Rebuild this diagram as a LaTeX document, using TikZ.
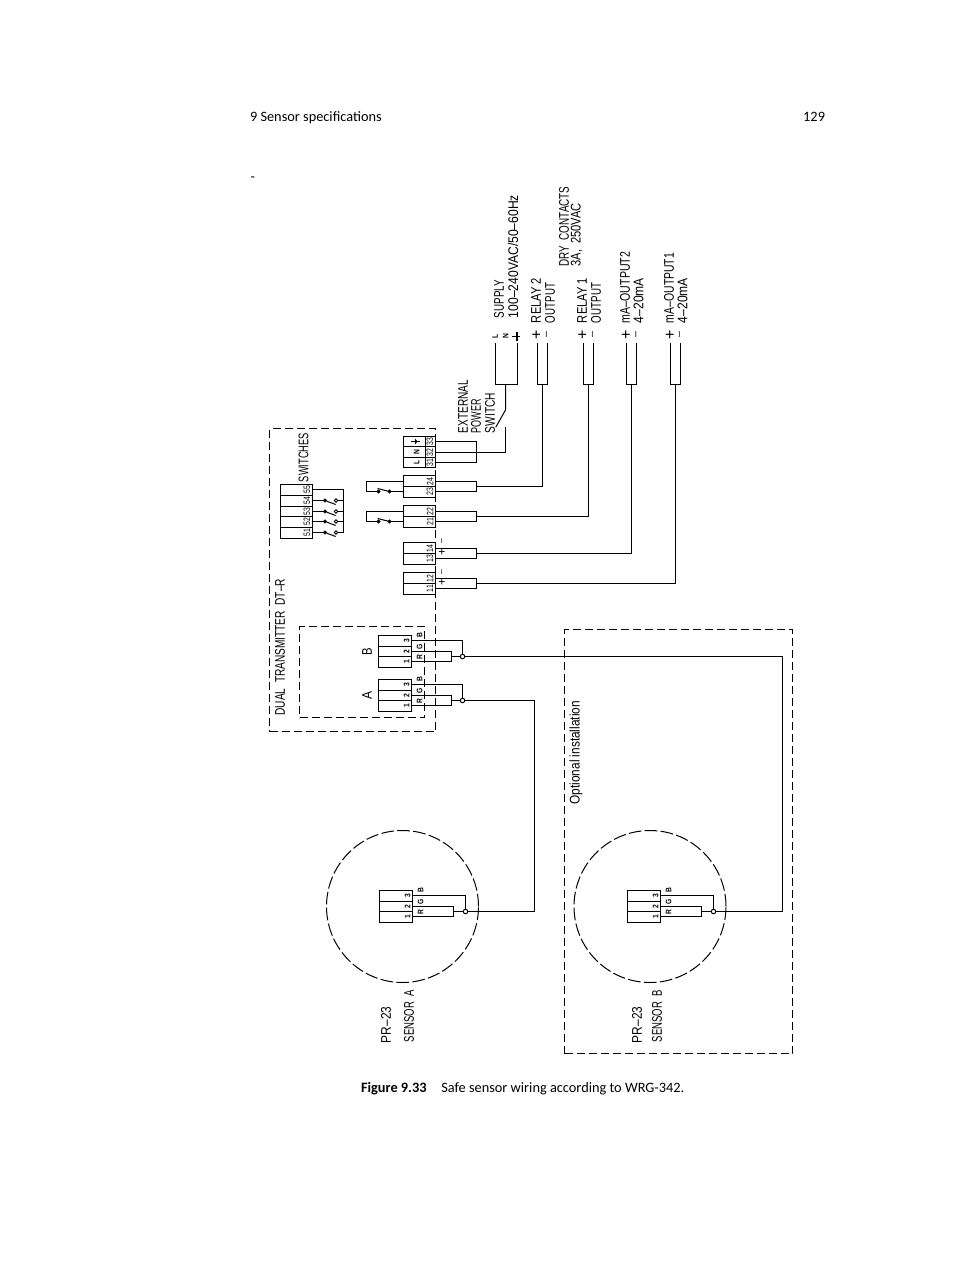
\documentclass[tikz,border=0pt]{standalone}
\usepackage{fontspec}
\setmainfont{Carlito}
\newfontfamily\cadfont{Liberation Sans}
\usetikzlibrary{calc}
\newcommand{\cadsmall}[1]{\scalebox{.84}[1]{\fontsize{6}{7}\cadfont\bfseries #1}}
\newcommand{\cadnum}[1]{\scalebox{.74}[1]{\fontsize{7}{8}\cadfont #1}}
\tikzset{
  wire/.style={draw=black,line width=.75pt,line join=miter},
  boxn/.style={draw=black,line width=.75pt,inner sep=0pt,outer sep=0pt},
  dashbox/.style={draw=black,line width=.75pt,dash pattern=on 6pt off 3pt,inner sep=0pt,outer sep=0pt},
  dashring/.style={draw=black,line width=.75pt,dash pattern=on 9.5pt off 2.5pt,circle,inner sep=0pt,outer sep=0pt},
  contact/.style={draw=black,fill=black,circle,minimum size=2.6pt,inner sep=0pt,outer sep=0pt},
  junction/.style={draw=black,line width=.7pt,circle,minimum size=3.4pt,inner sep=0pt,outer sep=0pt},
  lab/.style={rotate=90,anchor=west,inner sep=0pt,outer sep=0pt},
  tiny/.style={rotate=90,anchor=center,inner sep=0pt,outer sep=0pt},
  page/.style={anchor=base west,inner sep=0pt,outer sep=0pt,font=\fontsize{10.75}{13}\selectfont},
}
% rectangle given by left, top, width, height (pixels)
\newcommand{\pbox}[6][boxn]{\node[#1,minimum width={#5*0.75pt},minimum height={#6*0.75pt}] (#2) at ({#3+#5/2},{#4+#6/2}) {};}
% label reading upward, stretched to its length: name, x, lower y, upper y, text
\newcommand{\biglab}[5]{%
  \pgfmathsetlengthmacro{\lablen}{(#3-#4)*0.75pt}%
  \node[lab] (#1) at (#2,#3) {\resizebox{\lablen}{\height}{\fontsize{10.5}{12}\cadfont #5}};}
\newcommand{\minilab}[4]{\node[tiny] (#1) at (#2,#3) {\cadsmall{#4}};}
\newcommand{\numlab}[4]{\node[tiny] (#1) at (#2,#3) {\cadnum{#4}};}
% three-row connector with R G B tails: name, left x, top y, tie x, junction x
\newcommand{\sensorblock}[5]{
  \pbox{#1}{#2}{#3}{33}{32}
  \draw[wire] ($(#1.north west)+(0,11)$) -- ($(#1.north east)+(0,11)$);
  \draw[wire] ($(#1.north west)+(0,21)$) -- ($(#1.north east)+(0,21)$);
  \coordinate (#1-3) at ($(#1.north east)+(0,5)$);
  \coordinate (#1-2) at ($(#1.north east)+(0,16)$);
  \coordinate (#1-1) at ($(#1.north east)+(0,26)$);
  \coordinate (#1-t) at (#4,{#3+21});
  \node[junction] (#1-j) at (#5,{#3+21}) {};
  \minilab{#1-n3}{#2+28}{#3+5}{3}
  \minilab{#1-n2}{#2+28}{#3+16}{2}
  \minilab{#1-n1}{#2+28}{#3+26}{1}
  \minilab{#1-cb}{#2+41}{#3+0}{B}
  \minilab{#1-cg}{#2+41}{#3+11}{G}
  \minilab{#1-cr}{#2+41}{#3+21.5}{R}
  \draw[wire] (#1-3) -| (#1-j.north);
  \draw[wire] (#1-1) -| (#1-t) |- (#1-2);
  \draw[wire] (#1-t) -- (#1-j.west);
}
% two-row terminal: name, top y, upper number, lower number
\newcommand{\twoterm}[4]{
  \pbox{#1}{403.5}{#2}{32}{22}
  \draw[wire] (#1.west) -- (#1.east);
  \coordinate (#1-a) at ($(#1.north east)+(0,6)$);
  \coordinate (#1-b) at ($(#1.north east)+(0,16)$);
  \coordinate (#1-c) at ($(#1.north west)+(0,6)$);
  \coordinate (#1-d) at ($(#1.north west)+(0,16)$);
  \coordinate (#1-r) at (476.5,{#2+11});
  \numlab{#1-hi}{430}{#2+6}{#3}
  \numlab{#1-lo}{430}{#2+16}{#4}
  \draw[wire] (#1-a) -| (#1-r) |- (#1-b);
}
\begin{document}
\begin{tikzpicture}[x=.75pt,y=-.75pt]
\useasboundingbox (0,0) rectangle (954,1270);
\fill[white] (0,0) rectangle (954,1270);

% page texts
\node[page] (head) at (250,121) {9 Sensor specifications};
\node[page,anchor=base east] (pageno) at (825,121) {129};
\node[page] (stray) at (250.5,181) {-};
\node[page] (caption) at (361,1092) {\textbf{Figure 9.33}\hspace{11pt}Safe sensor wiring according to WRG-342.};

% dashed enclosures
\pbox[dashbox]{dtr}{269.5}{428.5}{166}{303}
\pbox[dashbox]{inner}{299.5}{626.5}{125}{91}
\pbox[dashbox]{opt}{564.5}{629.5}{228}{424}
\node[dashring,minimum size={152*0.75pt}] (ringA) at (402.5,906.5) {};
\node[dashring,minimum size={152*0.75pt}] (ringB) at (650,906.5) {};

% sensor / transmitter connectors
\sensorblock{sa}{379.5}{890.5}{453.5}{465.5}
\sensorblock{sb}{627.5}{890.5}{701.5}{713.5}
\sensorblock{ta}{378.5}{679.5}{451.5}{462.5}
\sensorblock{tb}{378.5}{635.5}{451.5}{462.5}

% long runs
\coordinate (bendA) at (534.5,911.5);
\coordinate (bendB) at (782.5,911.5);
\draw[wire] (ta-j.east) -| (bendA) -- (sa-j.east);
\draw[wire] (tb-j.east) -| (bendB) -- (sb-j.east);

% supply terminal
\pbox{ps}{403.5}{436.5}{32}{31}
\draw[wire] (425.5,436.5) -- (425.5,467.5);
\draw[wire] (403.5,446.5) -- (435.5,446.5);
\draw[wire] (403.5,457.5) -- (435.5,457.5);
\coordinate (ps-a) at (435.5,441.5);
\coordinate (ps-b) at (435.5,452.5);
\coordinate (ps-c) at (435.5,462.5);
\coordinate (ps-e) at (476.5,462.5);
\numlab{ps-33}{430}{441.5}{33}
\numlab{ps-32}{430}{452.5}{32}
\numlab{ps-31}{430}{462.5}{31}
\minilab{ps-n}{416.5}{452}{N}
\minilab{ps-l}{416.5}{462.5}{L}
\draw[wire] (411,441.5) -- (419.5,441.5);
\fill (415,438.5) -- (417.5,441.5) -- (415,444.5) -- cycle;
\draw[wire] (ps-a) -| (ps-e) -- (ps-c);

% two-row terminals
\twoterm{r2}{475.5}{24}{23}
\twoterm{r1}{505.5}{22}{21}
\twoterm{o2}{542.5}{14}{13}
\twoterm{o1}{572.5}{12}{11}

\node[tiny] (o2m) at (442.3,541) {\fontsize{6.5}{7}\cadfont\textendash};
\node[tiny] (o2p) at (442.3,551.7) {\fontsize{9}{10}\cadfont +};
\node[tiny] (o1m) at (442.3,572) {\fontsize{6.5}{7}\cadfont\textendash};
\node[tiny] (o1p) at (442.3,582.3) {\fontsize{9}{10}\cadfont +};

% relay loops
\node[contact] (r2L) at (378.5,491.5) {};
\node[contact] (r2R) at (389.5,491.5) {};
\node[contact] (r1L) at (378.5,521.5) {};
\node[contact] (r1R) at (389.5,521.5) {};
\coordinate (r2W) at (366.5,491.5);
\coordinate (r1W) at (366.5,521.5);
\coordinate (r2B) at (377.6,488.5);
\coordinate (r1B) at (377.6,518.5);
\draw[wire] (r2-c) -| (r2W) -- (r2L);
\draw[wire] (r2R) -- (r2-d);
\draw[wire] (r2B) -- (r2R);
\draw[wire] (r1-c) -| (r1W) -- (r1L);
\draw[wire] (r1R) -- (r1-d);
\draw[wire] (r1B) -- (r1R);

% switch block
\pbox{sw}{280.5}{484.5}{32}{54}
\foreach \yy in {495.5,506.5,516.5,527.5}{\draw[wire] (280.5,\yy) -- (312.5,\yy);}
\numlab{sw55}{307}{489.5}{55}
\numlab{sw54}{307}{500.5}{54}
\numlab{sw53}{307}{511.5}{53}
\numlab{sw52}{307}{521.5}{52}
\numlab{sw51}{307}{532.5}{51}
\coordinate (swbus) at (343.5,489.5);
\coordinate (swend) at (343.5,532.5);
\draw[wire] (312.5,489.5) -- (swbus) -- (swend);
\foreach \nn/\yy in {a/500.5,b/511.5,c/521.5,d/532.5}{
  \node[contact] (s\nn L) at (325,\yy) {};
  \node[junction,minimum size=2.6pt] (s\nn R) at (336,\yy) {};
  \draw[wire] (312.5,\yy) -- (s\nn L);
  \draw[wire] (s\nn L) -- (335.6,\yy+4);
  \draw[wire] (s\nn R) -- (343.5,\yy);
}

% supply field wiring
\coordinate (supL) at (495.5,343);
\coordinate (supG) at (517.5,343);
\coordinate (supBL) at (495.5,384.5);
\coordinate (supBR) at (517.5,384.5);
\coordinate (supS) at (505.5,384.5);
\coordinate (supT) at (505.5,410);
\coordinate (supU) at (495.7,427.3);
\coordinate (supV) at (505.5,427);
\draw[wire] (supL) -- (supBL) -- (supBR) -- (supG);
\draw[wire] (supS) -- (supT) -- (supU);
\draw[wire] (supV) |- (ps-b);

% field wiring of relays and outputs
\draw[wire] (537.5,343) -- (537.5,384.5) -- (547.5,384.5) -- (547.5,343);
\draw[wire] (583.5,343) -- (583.5,384.5) -- (593.5,384.5) -- (593.5,343);
\draw[wire] (626.5,343) -- (626.5,384.5) -- (636.5,384.5) -- (636.5,343);
\draw[wire] (670.5,343) -- (670.5,384.5) -- (680.5,384.5) -- (680.5,343);
\coordinate (f2) at (542.5,384.5);
\coordinate (f1) at (588.5,384.5);
\coordinate (f3) at (631.5,384.5);
\coordinate (f4) at (675.5,384.5);
\draw[wire] (r2-r) -| (f2);
\draw[wire] (r1-r) -| (f1);
\draw[wire] (o2-r) -| (f3);
\draw[wire] (o1-r) -| (f4);

% tails' markings
\minilab{tL}{495}{336.5}{L}
\minilab{tN}{505.7}{336.5}{N}
\draw[wire] (512,336) -- (519.5,336);
\draw[line width=1.2pt] (517,332) -- (517,341);
\foreach \nn/\xx in {p1/537,p2/583,p3/626.5,p4/670.5}{
  \node[tiny] (\nn) at (\xx,335) {\fontsize{12}{12}\cadfont +};
}
\foreach \nn/\xx in {m1/547.7,m2/593.7,m3/637,m4/680.7}{
  \node[tiny] (\nn) at (\xx,335) {\fontsize{8}{8}\cadfont\textendash};
}

% large labels
\biglab{l1}{499}{318}{280}{SUPPLY}
\biglab{l2}{513}{318}{195}{100\textendash 240VAC/50\textendash 60Hz}
\biglab{l3}{536}{323}{278}{RELAY 2}
\biglab{l4}{550}{323}{283}{OUTPUT}
\biglab{l5}{582}{323}{278}{RELAY 1}
\biglab{l6}{596}{323}{283}{OUTPUT}
\biglab{l7}{625}{323}{252}{mA\textendash OUTPUT2}
\biglab{l8}{638.5}{323}{278}{4\textendash 20mA}
\biglab{l9}{669}{323}{253}{mA\textendash OUTPUT1}
\biglab{l10}{682.5}{323}{278}{4\textendash 20mA}
\biglab{l11}{564}{266.5}{186.5}{DRY\ \ CONTACTS}
\biglab{l12}{576.5}{266.5}{203}{3A,\ \ 250VAC}
\biglab{l13}{463}{433}{380}{EXTERNAL}
\biglab{l14}{476}{433}{399}{POWER}
\biglab{l15}{490}{433}{393}{SWITCH}
\biglab{l16}{303.5}{482}{433}{SWITCHES}
\biglab{l17}{280}{715.5}{579}{DUAL\ \ TRANSMITTER\ \ DT\textendash R}
\biglab{l18}{367}{699.5}{691.5}{A}
\biglab{l19}{367}{655.5}{648}{B}
\biglab{l20}{386}{1043}{1006.5}{PR\textendash 23}
\biglab{l21}{409}{1042}{990}{SENSOR\ \ A}
\biglab{l22}{637}{1043}{1006.5}{PR\textendash 23}
\biglab{l23}{657}{1042}{990}{SENSOR\ \ B}
\biglab{l24}{576}{804.5}{701}{Optional installation}
\end{tikzpicture}
\end{document}
